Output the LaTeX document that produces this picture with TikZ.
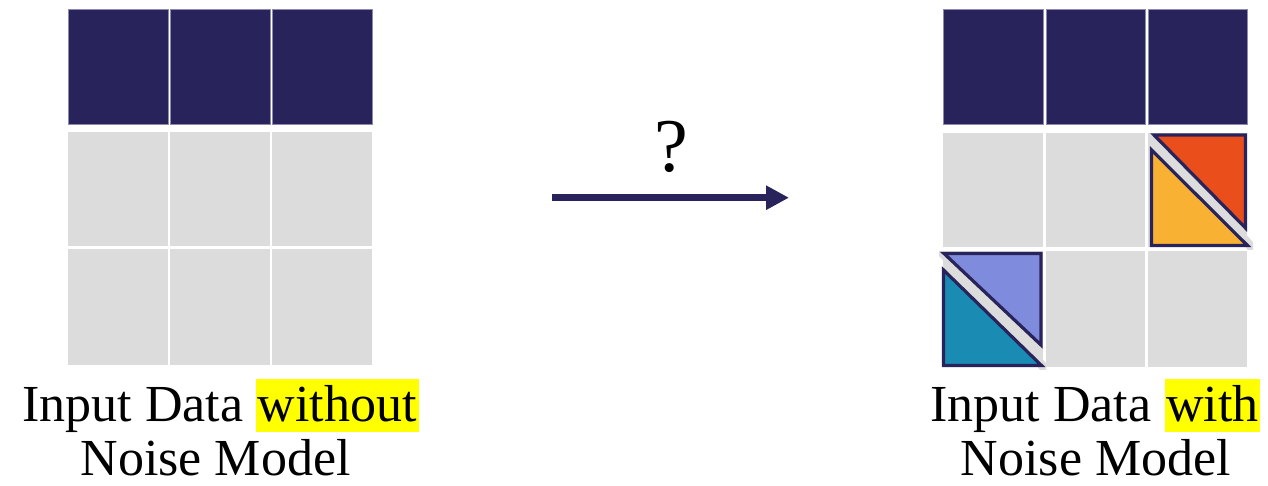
\documentclass[tikz,border=0pt]{standalone}
\usepackage{fontspec}
\setmainfont{Liberation Serif}
\usetikzlibrary{arrows.meta}
\definecolor{navy}{HTML}{29235C}
\definecolor{cellgray}{HTML}{DCDCDC}
\definecolor{edgegray}{HTML}{8E8AAE}
\definecolor{orng}{HTML}{E94E1B}
\definecolor{yell}{HTML}{F8B133}
\definecolor{lav}{HTML}{7F8BDD}
\definecolor{teal}{HTML}{1A8CB4}
\definecolor{hl}{HTML}{FFFF00}
\tikzset{
  darkcell/.style={fill=navy, draw=edgegray, line width=0.7pt},
  lightcell/.style={fill=cellgray},
  tri/.style={draw=navy, line width=3.2pt, line join=miter},
  strip/.style={draw=cellgray, line width=9pt},
  label/.style={anchor=base, inner sep=0pt, font=\fontsize{52}{54}\selectfont},
  flow/.style={draw=navy, line width=7.5pt, -{Triangle[length=23pt,width=23pt]}}
}
\newcommand{\hlword}[1]{{\setlength{\fboxsep}{0pt}\colorbox{hl}{\rule[-10.6pt]{0pt}{53.3pt}\hspace{1.5pt}#1\hspace{2pt}}}}
\begin{document}
\begin{tikzpicture}[x=1pt,y=-1pt]
\useasboundingbox (0,0) rectangle (1268,485);
% left grid
\foreach \a/\b in {68/168,170/270,272/372}{
  \path[darkcell] (\a,9) rectangle (\b,124);
  \path[lightcell] (\a,132) rectangle (\b,246);
  \path[lightcell] (\a,249) rectangle (\b,365);
}
% right grid
\foreach \a/\b in {943/1043,1046/1145,1148/1247}{
  \path[darkcell] (\a,9) rectangle (\b,124);
  \path[lightcell] (\a,133) rectangle (\b,247);
  \path[lightcell] (\a,251) rectangle (\b,367);
}
% diagonal strips
\begin{scope}
  \clip (1148,133) rectangle (1253,249);
  \path[strip] (1146,130) -- (1254,250);
\end{scope}
\begin{scope}
  \clip (939,251) rectangle (1046,369);
  \path[strip] (937,247) -- (1047,371);
\end{scope}
% triangles
\path[tri, fill=orng] (1154,135) -- (1245.5,135) -- (1245.5,228) -- cycle;
\path[tri, fill=yell] (1151.5,150) -- (1151.5,245.5) -- (1247.5,245.5) -- cycle;
\path[tri, fill=lav] (944,253.5) -- (1041,253.5) -- (1041,345) -- cycle;
\path[tri, fill=teal] (943.5,270) -- (943.5,365.5) -- (1041.5,365.5) -- cycle;
% arrow
\coordinate (a0) at (552,197.7);
\coordinate (a1) at (789,197.7);
\draw[flow] (a0) -- (a1);
\node[anchor=base, inner sep=0pt, font=\fontsize{76}{80}\selectfont] (q) at (671.7,171.7) {?};
% labels
\node[label] (lt1) at (220.5,421.7) {Input Data \hlword{without}};
\node[label] (lt2) at (215.5,475) {Noise Model};
\node[label] (rt1) at (1095.5,421.7) {Input Data \hlword{with}};
\node[label] (rt2) at (1096,475) {Noise Model};
\end{tikzpicture}
\end{document}
